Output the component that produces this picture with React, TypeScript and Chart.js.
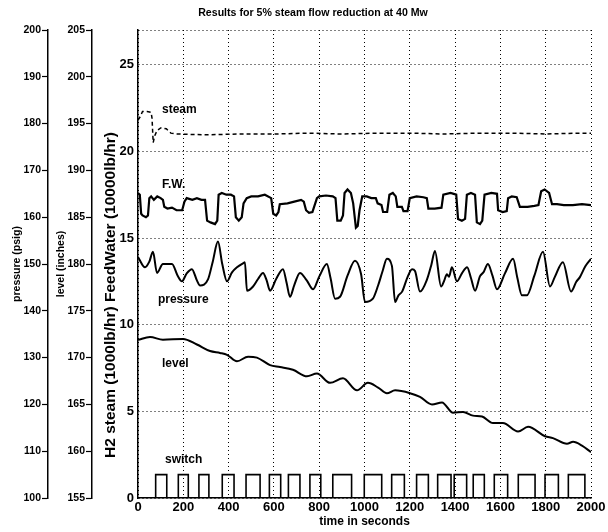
import React, { useEffect, useRef } from 'react';
import { Chart, registerables } from 'chart.js';

Chart.register(...registerables);

const FONT = "'Liberation Sans', Arial, Helvetica, sans-serif";

const chartTitle = 'Results for 5% steam flow reduction at 40 Mw';
const xTitle = 'time in seconds';
const mainTitle = 'H2 steam (1000lb/hr) FeedWater (10000lb/hr)';
const pressureTitle = 'pressure (psig)';
const levelTitle = 'level (inches)';

const xTicks = [0, 200, 400, 600, 800, 1000, 1200, 1400, 1600, 1800, 2000];
const mainTicks = [0, 5, 10, 15, 20, 25];
const mainMax = 27;
const pressureTicks = [100, 110, 120, 130, 140, 150, 160, 170, 180, 190, 200];
const levelTicks = [155, 160, 165, 170, 175, 180, 185, 190, 195, 200, 205];

// H2 steam (1000 lb/hr)
const steamTime = [0, 10, 20, 40, 58, 62, 67, 74, 84, 100, 125, 145, 170, 300, 450, 600, 750, 900, 1050, 1200, 1350, 1500, 1650, 1800, 1950, 2000];
const steamValue = [21.8, 22.0, 22.3, 22.3, 22.25, 21.9, 20.5, 20.9, 21.2, 21.35, 21.3, 21.05, 21.0, 20.95, 21.0, 21.0, 21.05, 21.0, 21.05, 21.05, 21.0, 21.05, 21.05, 21.0, 21.05, 21.05];

// FeedWater (10000 lb/hr)
const fwTime = [0, 8, 14, 20, 35, 44, 50, 58, 70, 85, 100, 110, 116, 130, 150, 170, 195, 205, 215, 240, 260, 280, 296, 305, 320, 340, 350, 356, 370, 390, 410, 424, 432, 445, 458, 466, 480, 500, 530, 560, 588, 597, 610, 620, 626, 660, 690, 720, 732, 742, 755, 770, 790, 800, 830, 860, 872, 880, 895, 905, 912, 925, 940, 950, 962, 970, 978, 990, 1010, 1030, 1050, 1058, 1075, 1082, 1100, 1110, 1125, 1138, 1145, 1165, 1172, 1190, 1200, 1230, 1260, 1275, 1282, 1310, 1340, 1348, 1380, 1405, 1413, 1430, 1444, 1452, 1470, 1488, 1496, 1510, 1520, 1530, 1560, 1585, 1590, 1610, 1628, 1634, 1650, 1672, 1686, 1720, 1750, 1768, 1780, 1795, 1815, 1828, 1850, 1880, 1920, 1960, 2000];
const fwValue = [17.6, 17.5, 16.4, 16.3, 16.2, 16.3, 17.3, 17.4, 17.2, 17.4, 17.3, 17.2, 16.8, 16.7, 16.75, 16.6, 16.6, 17.1, 17.3, 17.2, 17.3, 17.2, 17.2, 16.0, 15.9, 15.8, 16.0, 17.5, 17.6, 17.5, 17.5, 17.4, 16.2, 16.0, 16.2, 17.0, 17.3, 17.4, 17.4, 17.5, 17.3, 16.4, 16.3, 16.5, 16.95, 17.0, 17.1, 17.2, 17.1, 16.6, 16.45, 16.5, 17.3, 17.4, 17.45, 17.4, 17.3, 16.0, 16.0, 16.3, 17.6, 17.8, 17.6, 17.0, 15.6, 15.7, 16.6, 17.4, 17.4, 17.3, 17.3, 17.0, 16.9, 16.5, 16.5, 17.5, 17.6, 17.4, 16.8, 16.8, 16.55, 16.55, 17.3, 17.4, 17.35, 17.3, 16.7, 16.7, 16.75, 17.5, 17.6, 17.5, 16.1, 16.0, 16.1, 17.5, 17.6, 17.5, 15.9, 15.8, 16.0, 17.5, 17.6, 17.55, 16.6, 16.5, 16.55, 17.3, 17.4, 17.35, 16.8, 16.8, 16.85, 16.9, 17.7, 17.8, 17.6, 16.95, 16.95, 16.9, 16.9, 16.95, 16.9];

// pressure (psig)
const pressureTime = [0, 31, 50, 66, 84, 110, 150, 175, 194, 215, 238, 260, 274, 309, 330, 353, 372, 393, 415, 437, 465, 472, 481, 508, 530, 552, 568, 583, 610, 640, 656, 671, 690, 715, 745, 773, 800, 834, 850, 870, 892, 925, 958, 985, 1002, 1037, 1060, 1080, 1099, 1121, 1135, 1150, 1166, 1190, 1210, 1223, 1245, 1276, 1295, 1311, 1338, 1350, 1364, 1373, 1386, 1408, 1430, 1453, 1470, 1488, 1510, 1525, 1545, 1565, 1585, 1620, 1656, 1675, 1695, 1717, 1750, 1788, 1819, 1840, 1876, 1912, 1935, 1951, 1975, 2000];
const pressurePsig = [151.5, 149.3, 150.5, 152.6, 148.1, 150.0, 150.0, 147.5, 146.3, 148.0, 148.9, 146.5, 145.4, 146.7, 150.5, 154.8, 150.0, 146.3, 148.2, 149.3, 150.2, 150.4, 144.3, 145.2, 146.8, 148.1, 146.5, 144.3, 146.8, 148.9, 146.0, 143.0, 145.5, 148.1, 146.5, 144.6, 147.3, 150.0, 147.0, 142.6, 143.0, 147.5, 150.7, 147.8, 141.9, 142.6, 145.4, 148.5, 151.1, 149.6, 141.9, 143.3, 144.1, 147.2, 148.9, 148.5, 144.1, 146.7, 149.8, 152.8, 145.2, 146.2, 147.8, 147.3, 149.3, 146.3, 148.0, 149.3, 147.0, 144.3, 147.4, 148.2, 150.0, 147.5, 144.6, 148.0, 151.1, 147.0, 143.3, 143.3, 147.5, 152.6, 145.2, 147.2, 150.4, 144.1, 146.2, 147.2, 149.5, 151.1];

// level (inches)
const levelTime = [0, 53, 110, 199, 260, 318, 362, 393, 437, 486, 525, 583, 627, 684, 746, 790, 848, 905, 967, 1015, 1060, 1099, 1135, 1201, 1245, 1298, 1342, 1391, 1435, 1479, 1519, 1567, 1611, 1678, 1722, 1797, 1832, 1894, 1921, 1960, 2000];
const levelInches = [171.9, 172.2, 171.9, 172.0, 171.4, 170.7, 170.5, 170.3, 169.6, 170.1, 170.0, 169.2, 169.0, 168.7, 168.0, 168.3, 167.3, 167.8, 166.5, 167.3, 166.8, 166.2, 166.5, 166.2, 165.8, 165.0, 165.2, 164.1, 164.2, 163.8, 163.7, 163.0, 163.0, 162.1, 162.6, 161.6, 161.4, 160.8, 161.0, 160.6, 159.9];

// switch pulses
const switchOn = [78, 178, 269, 372, 477, 580, 664, 759, 860, 999, 1120, 1230, 1323, 1396, 1480, 1573, 1679, 1797, 1900];
const switchOff = [127, 222, 313, 424, 539, 630, 715, 807, 943, 1076, 1176, 1282, 1382, 1451, 1529, 1632, 1753, 1856, 1973];
const switchHigh = 1.35;

// curve annotations (time, main-axis value)
const curveLabels = ['steam', 'F.W.', 'pressure', 'level', 'switch'];
const curveLabelTime = [106, 106, 88, 106, 119];
const curveLabelValue = [22.4, 18.06, 11.43, 7.73, 2.19];

const toPoints = (xs: number[], ys: number[]) => xs.map((x, i) => ({ x, y: ys[i] }));

const switchPoints = (() => {
  const pts: { x: number; y: number }[] = [{ x: 0, y: 0 }];
  switchOn.forEach((on, i) => {
    pts.push({ x: on, y: 0 }, { x: on, y: switchHigh }, { x: switchOff[i], y: switchHigh }, { x: switchOff[i], y: 0 });
  });
  pts.push({ x: 2000, y: 0 });
  return pts;
})();

const labelPlugin = {
  id: 'curveLabels',
  afterDraw(chart: any) {
    const { ctx, scales, chartArea, width } = chart;
    const x = scales.x;
    const y = scales.y;
    ctx.save();
    ctx.fillStyle = '#000';
    ctx.font = `bold 12px ${FONT}`;
    ctx.textBaseline = 'middle';
    ctx.textAlign = 'left';
    curveLabels.forEach((txt, i) => {
      ctx.fillText(txt, x.getPixelForValue(curveLabelTime[i]), y.getPixelForValue(curveLabelValue[i]));
    });
    // chart title
    ctx.font = `bold 10.6px ${FONT}`;
    ctx.textAlign = 'center';
    ctx.fillText(chartTitle, width / 2 + 9, 13);
    ctx.restore();
    // main y-axis title
    ctx.save();
    ctx.fillStyle = '#000';
    ctx.font = `bold 15.5px ${FONT}`;
    ctx.textBaseline = 'middle';
    ctx.textAlign = 'center';
    ctx.translate(y.left + 19, (chartArea.top + chartArea.bottom) / 2 + 31);
    ctx.rotate(-Math.PI / 2);
    ctx.fillText(mainTitle, 0, 0);
    ctx.restore();
  },
};

export default function App() {
  const ref = useRef<HTMLCanvasElement>(null);
  useEffect(() => {
    if (!ref.current) return;
    Chart.defaults.font.family = FONT;
    Chart.defaults.color = '#000';
    const lineCommon = { borderColor: '#000', pointRadius: 0, fill: false, xAxisID: 'x' };
    const chart = new Chart(ref.current, {
      type: 'line',
      data: {
        datasets: [
          { ...lineCommon, label: 'steam', data: toPoints(steamTime, steamValue), yAxisID: 'y', borderWidth: 1.5, borderDash: [4, 3], tension: 0 },
          { ...lineCommon, label: 'F.W.', data: toPoints(fwTime, fwValue), yAxisID: 'y', borderWidth: 2.2, tension: 0 },
          { ...lineCommon, label: 'pressure', data: toPoints(pressureTime, pressurePsig), yAxisID: 'yp', borderWidth: 2, cubicInterpolationMode: 'monotone' },
          { ...lineCommon, label: 'level', data: toPoints(levelTime, levelInches), yAxisID: 'yl', borderWidth: 2, cubicInterpolationMode: 'monotone' },
          { ...lineCommon, label: 'switch', data: switchPoints, yAxisID: 'y', borderWidth: 1.6, tension: 0 },
        ],
      } as any,
      options: {
        responsive: false,
        animation: false,
        devicePixelRatio: 1,
        layout: { padding: { left: 0, right: 17, top: 30, bottom: 0 } },
        plugins: {
          legend: { display: false },
          tooltip: { enabled: false },
          title: { display: false },
        },
        scales: {
          x: {
            type: 'linear',
            position: 'bottom',
            min: 0,
            max: 2000,
            afterBuildTicks: (s: any) => { s.ticks = xTicks.map((v) => ({ value: v })); },
            ticks: { font: { size: 13, weight: 'bold' }, color: '#000', padding: 2, maxRotation: 0, autoSkip: false, callback: (v: any) => String(v) },
            grid: { color: '#000', lineWidth: 1, drawTicks: false },
            border: { display: true, color: '#000', width: 1.5, dash: [1, 3] },
            title: { display: true, text: xTitle, color: '#000', font: { size: 12, weight: 'bold' }, padding: { top: 0, bottom: 2.8 } },
            afterFit: (s: any) => { s.height = 34; },
          },
          y: {
            type: 'linear',
            position: 'left',
            weight: 0,
            min: 0,
            max: mainMax,
            afterBuildTicks: (s: any) => { s.ticks = [...mainTicks, mainMax].map((v) => ({ value: v })); },
            ticks: {
              font: { size: 13, weight: 'bold' }, color: '#000', padding: 4,
              callback: (v: any) => (mainTicks.includes(v) ? String(v) : ''),
            },
            grid: { color: '#000', lineWidth: 1, drawTicks: false },
            border: { display: true, color: '#000', width: 1.5, dash: [1, 3] },
            afterFit: (s: any) => { s.width = 46; },
          },
          yl: {
            type: 'linear',
            position: 'left',
            weight: 1,
            min: 155,
            max: 205,
            afterBuildTicks: (s: any) => { s.ticks = levelTicks.map((v) => ({ value: v })); },
            ticks: { font: { size: 10.5, weight: 'bold' }, color: '#000', padding: 1 },
            grid: { drawOnChartArea: false, drawTicks: true, tickLength: 6, tickColor: '#000', tickWidth: 1.2 },
            border: { display: true, color: '#000', width: 1.5 },
            title: { display: true, text: levelTitle, color: '#000', font: { size: 10.5, weight: 'bold' }, padding: { top: 6.7, bottom: 0 } },
            afterFit: (s: any) => { s.width = 44; },
          },
          yp: {
            type: 'linear',
            position: 'left',
            weight: 2,
            min: 100,
            max: 200,
            afterBuildTicks: (s: any) => { s.ticks = pressureTicks.map((v) => ({ value: v })); },
            ticks: { font: { size: 10.5, weight: 'bold' }, color: '#000', padding: 1 },
            grid: { drawOnChartArea: false, drawTicks: true, tickLength: 6, tickColor: '#000', tickWidth: 1.2 },
            border: { display: true, color: '#000', width: 1.5 },
            title: { display: true, text: pressureTitle, color: '#000', font: { size: 10.5, weight: 'bold' }, padding: { top: 10.7, bottom: 0 } },
            afterFit: (s: any) => { s.width = 48; },
          },
        },
      } as any,
      plugins: [labelPlugin],
    });
    return () => chart.destroy();
  }, []);
  return (
    <div style={{ position: 'absolute', left: 0, top: 0, width: 608, height: 532, background: '#fff' }}>
      <canvas ref={ref} width={608} height={532} />
    </div>
  );
}
